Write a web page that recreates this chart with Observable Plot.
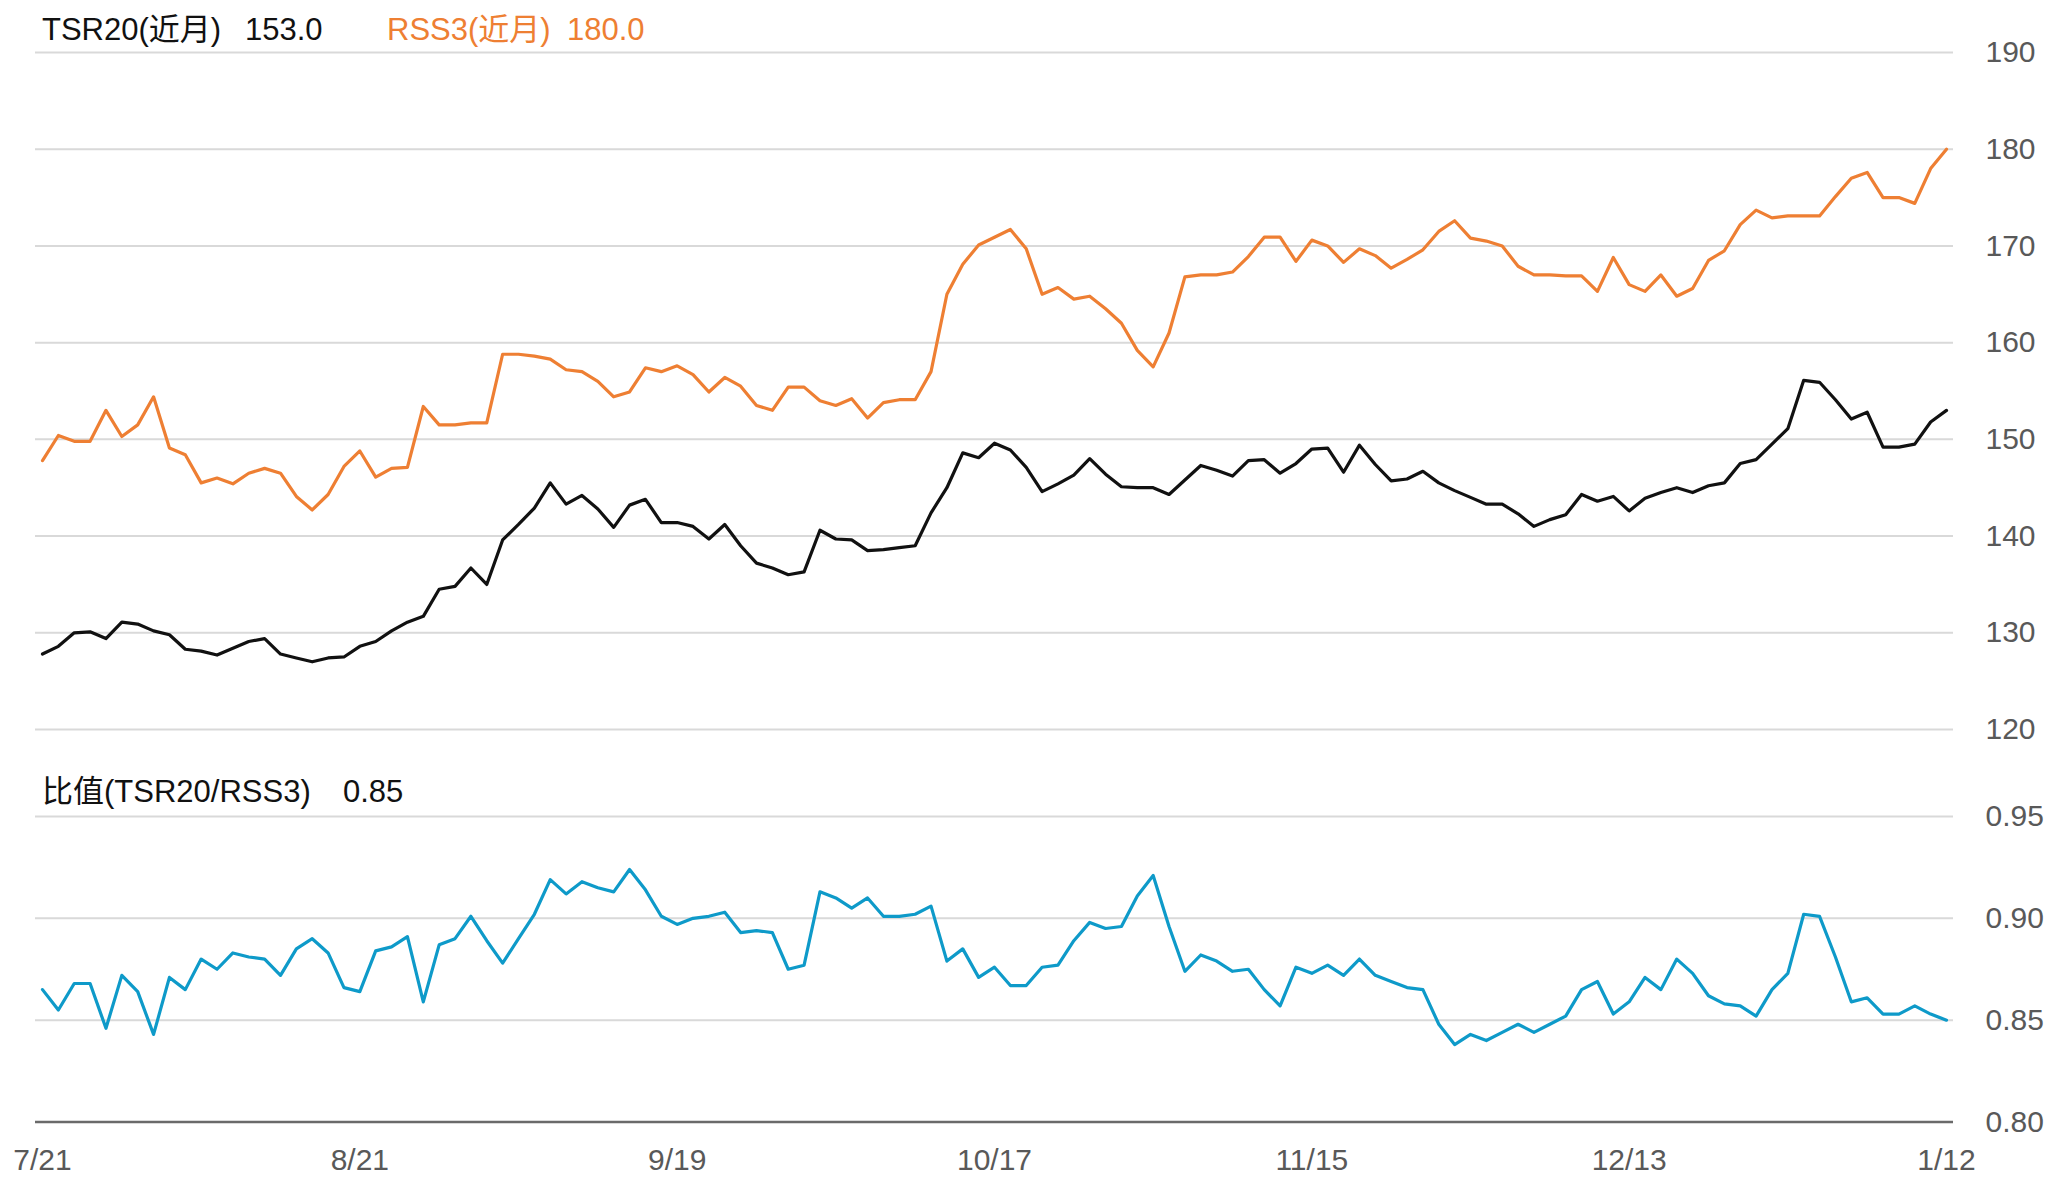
<!DOCTYPE html>
<html>
<head>
<meta charset="utf-8">
<script src="https://cdn.jsdelivr.net/npm/d3@7"></script>
<script src="https://cdn.jsdelivr.net/npm/@observablehq/plot@0.6"></script>
<style>
  html, body { margin: 0; padding: 0; background: #fff; }
  #wrap { position: relative; width: 2048px; height: 1178px; overflow: hidden; background: #fff;
          font-family: "Liberation Sans", Arial, "Noto Sans CJK SC", sans-serif; }
  .t { position: absolute; font-size: 31px; line-height: 31px; white-space: nowrap; }
</style>
</head>
<body>
<div id="wrap"></div>
<script>
// ---- data ----
const tickIndex = [0, 20, 40, 60, 80, 100, 120];
const tickLabels = ["7/21", "8/21", "9/19", "10/17", "11/15", "12/13", "1/12"];

const tsr = [
  127.8, 128.6, 130.0, 130.1, 129.4, 131.1, 130.9, 130.2, 129.8, 128.3,
  128.1, 127.7, 128.4, 129.1, 129.4, 127.8, 127.4, 127.0, 127.4, 127.5,
  128.6, 129.1, 130.2, 131.1, 131.7, 134.5, 134.8, 136.7, 135.0, 139.6,
  141.2, 142.9, 145.5, 143.3, 144.2, 142.8, 140.9, 143.2, 143.8, 141.4,
  141.4, 141.0, 139.7, 141.2, 139.0, 137.2, 136.7, 136.0, 136.3, 140.6,
  139.7, 139.6, 138.5, 138.6, 138.8, 139.0, 142.4, 145.0, 148.6, 148.1,
  149.6, 148.9, 147.1, 144.6, 145.4, 146.3, 148.0, 146.4, 145.1, 145.0,
  145.0, 144.3, 145.8, 147.3, 146.8, 146.2, 147.8, 147.9, 146.5, 147.5,
  149.0, 149.1, 146.6, 149.4, 147.4, 145.7, 145.9, 146.7, 145.5, 144.7,
  144.0, 143.3, 143.3, 142.3, 141.0, 141.7, 142.2, 144.3, 143.6, 144.1,
  142.6, 143.9, 144.5, 145.0, 144.5, 145.2, 145.5, 147.5, 147.9, 149.5,
  151.1, 156.1, 155.9, 154.1, 152.1, 152.8, 149.2, 149.2, 149.5, 151.8,
  153.0
];

const rss = [
  147.8, 150.4, 149.8, 149.8, 153.0, 150.3, 151.5, 154.4, 149.1, 148.4,
  145.5, 146.0, 145.4, 146.5, 147.0, 146.5, 144.1, 142.7, 144.3, 147.2,
  148.8, 146.1, 147.0, 147.1, 153.4, 151.5, 151.5, 151.7, 151.7, 158.8,
  158.8, 158.6, 158.3, 157.2, 157.0, 156.0, 154.4, 154.9, 157.4, 157.0,
  157.6, 156.7, 154.9, 156.4, 155.5, 153.5, 153.0, 155.4, 155.4, 154.0,
  153.5, 154.2, 152.2, 153.8, 154.1, 154.1, 157.0, 165.0, 168.1, 170.1,
  170.9, 171.7, 169.7, 165.0, 165.7, 164.5, 164.8, 163.5, 162.0, 159.2,
  157.5, 161.0, 166.8, 167.0, 167.0, 167.3, 168.9, 170.9, 170.9, 168.4,
  170.6, 170.0, 168.3, 169.7, 169.0, 167.7, 168.6, 169.6, 171.5, 172.6,
  170.8, 170.5, 170.0, 167.9, 167.0, 167.0, 166.9, 166.9, 165.3, 168.8,
  166.0, 165.3, 167.0, 164.8, 165.6, 168.5, 169.5, 172.2, 173.7, 172.9,
  173.1, 173.1, 173.1, 175.1, 177.0, 177.6, 175.0, 175.0, 174.4, 178.0,
  180.0
];

const ratio = [
  0.865, 0.855, 0.868, 0.868, 0.846, 0.872, 0.864, 0.843, 0.871, 0.865,
  0.880, 0.875, 0.883, 0.881, 0.880, 0.872, 0.885, 0.890, 0.883, 0.866,
  0.864, 0.884, 0.886, 0.891, 0.859, 0.887, 0.890, 0.901, 0.889, 0.878,
  0.890, 0.902, 0.919, 0.912, 0.918, 0.915, 0.913, 0.924, 0.914, 0.901,
  0.897, 0.900, 0.901, 0.903, 0.893, 0.894, 0.893, 0.875, 0.877, 0.913,
  0.910, 0.905, 0.910, 0.901, 0.901, 0.902, 0.906, 0.879, 0.885, 0.871,
  0.876, 0.867, 0.867, 0.876, 0.877, 0.889, 0.898, 0.895, 0.896, 0.911,
  0.921, 0.896, 0.874, 0.882, 0.879, 0.874, 0.875, 0.865, 0.857, 0.876,
  0.873, 0.877, 0.872, 0.880, 0.872, 0.869, 0.866, 0.865, 0.848, 0.838,
  0.843, 0.840, 0.844, 0.848, 0.844, 0.848, 0.852, 0.865, 0.869, 0.853,
  0.859, 0.871, 0.865, 0.880, 0.873, 0.862, 0.858, 0.857, 0.852, 0.865,
  0.873, 0.902, 0.901, 0.881, 0.859, 0.861, 0.853, 0.853, 0.857, 0.853,
  0.850
];

const topTicks = [120, 130, 140, 150, 160, 170, 180, 190];
const bottomTicks = [0.80, 0.85, 0.90, 0.95];

// ---- styling ----
const ORANGE = "#EE7F33";
const BLUE = "#0E9AC9";
const BLACK = "#111111";
const GRID = "#d9d9d9";
const LABEL = "#595959";
const FONT = '"Liberation Sans", Arial, "Noto Sans CJK SC", sans-serif';

const wrap = document.getElementById("wrap");
const idx = (d, i) => i;

const common = {
  width: 2048,
  marginLeft: 35,
  marginRight: 95,
  style: { fontFamily: FONT, fontSize: "30px", color: LABEL, background: "transparent", overflow: "visible" }
};

// top panel
const topPlot = Plot.plot({
  ...common,
  height: 740,
  marginTop: 52,
  marginBottom: 11,
  x: { domain: [0, 120], inset: 7, axis: null },
  y: { domain: [120, 190], axis: "right", ticks: topTicks, tickFormat: d => String(d), tickSize: 0, tickPadding: 32, label: null },
  marks: [
    Plot.ruleY(topTicks, { stroke: GRID, strokeWidth: 2 }),
    Plot.line(rss, { x: idx, y: d => d, stroke: ORANGE, strokeWidth: 3.2 }),
    Plot.line(tsr, { x: idx, y: d => d, stroke: BLACK, strokeWidth: 3.2 })
  ]
});
topPlot.style.position = "absolute";
topPlot.style.left = "0px";
topPlot.style.top = "0px";
wrap.appendChild(topPlot);

// bottom panel
const bottomPlot = Plot.plot({
  ...common,
  height: 438,
  marginTop: 76,
  marginBottom: 56.5,
  x: { domain: [0, 120], inset: 7, ticks: tickIndex, tickFormat: i => tickLabels[tickIndex.indexOf(i)], tickSize: 0, tickPadding: 27, label: null },
  y: { domain: [0.80, 0.95], axis: "right", ticks: bottomTicks, tickFormat: d => d.toFixed(2), tickSize: 0, tickPadding: 32, label: null },
  marks: [
    Plot.ruleY(bottomTicks.filter(d => d > 0.8), { stroke: GRID, strokeWidth: 2 }),
    Plot.ruleY([0.80], { stroke: "#6a6a6a", strokeWidth: 2.5 }),
    Plot.line(ratio, { x: idx, y: d => d, stroke: BLUE, strokeWidth: 3.2 })
  ]
});
bottomPlot.style.position = "absolute";
bottomPlot.style.left = "0px";
bottomPlot.style.top = "740px";
wrap.appendChild(bottomPlot);

// titles
function addText(txt, left, centerY, color) {
  const el = document.createElement("div");
  el.className = "t";
  el.textContent = txt;
  el.style.left = left + "px";
  el.style.top = (centerY - 14) + "px";
  el.style.color = color;
  wrap.appendChild(el);
}
addText("TSR20(近月)", 42, 28, BLACK);
addText(tsr[tsr.length - 1].toFixed(1), 245, 28, BLACK);
addText("RSS3(近月)", 387, 28, ORANGE);
addText(rss[rss.length - 1].toFixed(1), 567, 28, ORANGE);
addText("比值(TSR20/RSS3)", 42, 790, BLACK);
addText(ratio[ratio.length - 1].toFixed(2), 343, 790, BLACK);
</script>
</body>
</html>
